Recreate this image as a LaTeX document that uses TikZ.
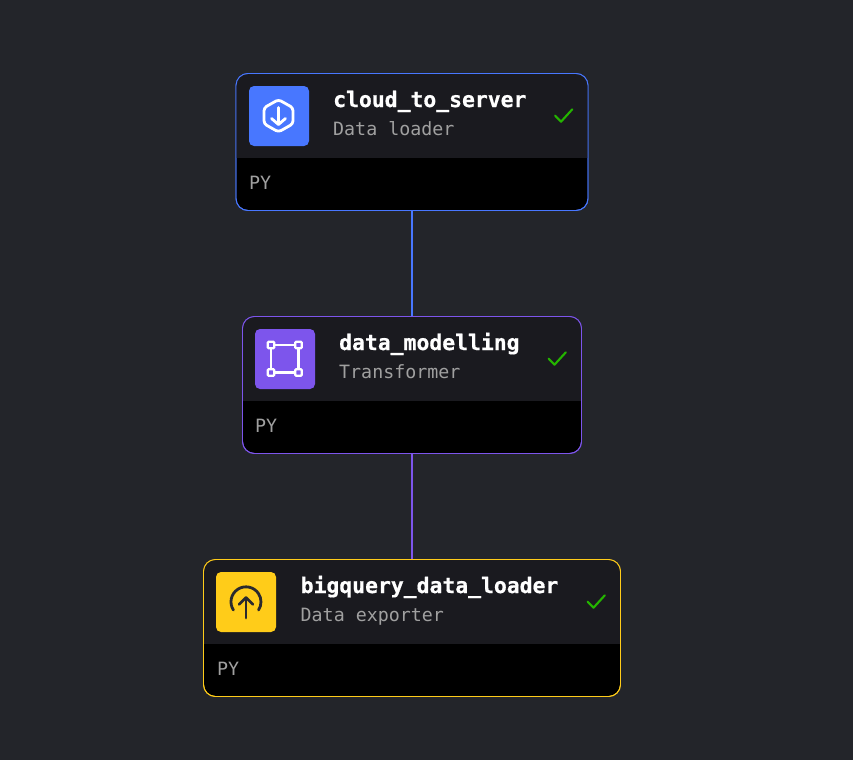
\documentclass[tikz,border=0pt]{standalone}
\usepackage{fontspec}
\newfontfamily\cardmono[BoldFeatures={FakeBold=0.6}]{DejaVu Sans Mono}
\definecolor{bgdark}{HTML}{23252A}
\definecolor{headdark}{HTML}{1A1A1F}
\definecolor{loaderblue}{HTML}{4877FF}
\definecolor{transpurple}{HTML}{7D55EC}
\definecolor{exportyellow}{HTML}{FFCC19}
\definecolor{okgreen}{HTML}{24B400}
\definecolor{subgrey}{HTML}{A0A0A0}
\definecolor{iconink}{HTML}{2A2A2E}
\tikzset{
  card/.style={rectangle,rounded corners=12pt,fill=black,draw=#1,line width=0.9pt,minimum height=137pt,outer sep=0pt,inner sep=0pt},
  iconbox/.style={rectangle,rounded corners=5pt,fill=#1,minimum width=60pt,minimum height=60pt,inner sep=0pt,outer sep=0pt},
  title/.style={anchor=base west,inner sep=0pt,text=white,font=\cardmono\bfseries\fontsize{21.4}{24}\selectfont},
  subtitle/.style={anchor=base west,inner sep=0pt,text=subgrey,font=\cardmono\fontsize{18.3}{22}\selectfont},
  lang/.style={anchor=base west,inner sep=0pt,text=subgrey,font=\cardmono\fontsize{18.3}{22}\selectfont},
  check/.style={draw=okgreen,line width=2.1pt,line cap=round,line join=round},
  wire/.style={line width=1.6pt},
  glyph/.style={draw=#1,line width=2.8pt,line cap=round,line join=round},
  handle/.style={draw=white,fill=transpurple,line width=2.2pt,rounded corners=1pt,minimum width=6.5pt,minimum height=6.5pt,inner sep=0pt,outer sep=0pt,rectangle}
}
\newcommand{\headerfill}[2]{%
  \begin{scope}
    \clip[rounded corners=12pt] (#1.south west) rectangle (#1.north east);
    \fill[headdark] (#1.north west) rectangle (#1.east |- 0,#2);
  \end{scope}
}
\begin{document}
\begin{tikzpicture}[x=1pt,y=-1pt]
\useasboundingbox (0,0) rectangle (853,760);
\fill[bgdark] (0,0) rectangle (853,760);

\node[card=loaderblue,minimum width=352pt] (n1) at (412,142) {};
\node[card=transpurple,minimum width=339pt] (n2) at (412,385) {};
\node[card=exportyellow,minimum width=417pt] (n3) at (412,628) {};
\draw[wire,loaderblue] (n1.south) -- (n2.north);
\draw[wire,transpurple] (n2.south) -- (n3.north);

\headerfill{n1}{158}
\headerfill{n2}{401}
\headerfill{n3}{644}
\draw[loaderblue,line width=0.9pt,rounded corners=12pt] (n1.south west) rectangle (n1.north east);
\draw[transpurple,line width=0.9pt,rounded corners=12pt] (n2.south west) rectangle (n2.north east);
\draw[exportyellow,line width=0.9pt,rounded corners=12pt] (n3.south west) rectangle (n3.north east);

% icon 1
\node[iconbox=loaderblue] (i1) at (279,116) {};
\draw[glyph=white,rounded corners=3pt] (278.5,99.6) -- (293,107.8) -- (293,123.8) -- (278.5,132) -- (264,123.8) -- (264,107.8) -- cycle;
\draw[glyph=white] (278.5,107.5) -- (278.5,124);
\draw[glyph=white] (271.5,118.5) -- (278.5,124.5) -- (285.5,118.5);

% icon 2
\node[iconbox=transpurple] (i2) at (285,359) {};
\draw[white,line width=2.6pt] (271,345) rectangle (298.5,372.5);
\node[handle] (h1) at (271,345) {};
\node[handle] (h2) at (298.5,345) {};
\node[handle] (h3) at (271,372.5) {};
\node[handle] (h4) at (298.5,372.5) {};

% icon 3
\node[iconbox=exportyellow] (i3) at (246,602) {};
\draw[glyph=iconink] (233.4,610) arc[start angle=147,end angle=393,radius=15];
\draw[glyph=iconink] (246,618) -- (246,597.5);
\draw[glyph=iconink] (239,604.5) -- (246,597.5) -- (253,604.5);

% texts
\node[title] (t1) at (333,107) {cloud\_to\_server};
\node[subtitle] (s1) at (333,135) {Data loader};
\node[lang] (p1) at (249,189) {PY};
\node[title] (t2) at (339,350) {data\_modelling};
\node[subtitle] (s2) at (339,378) {Transformer};
\node[lang] (p2) at (255,432) {PY};
\node[title] (t3) at (300.5,593) {bigquery\_data\_loader};
\node[subtitle] (s3) at (300.5,621) {Data exporter};
\node[lang] (p3) at (217,675) {PY};

% status ticks
\draw[check] (555,115.5) -- (561,121.7) -- (572.3,109.3);
\draw[check] (548.5,358.5) -- (554.5,364.7) -- (565.8,352.3);
\draw[check] (587.5,601.5) -- (593.5,607.7) -- (604.8,595.3);
\end{tikzpicture}
\end{document}
